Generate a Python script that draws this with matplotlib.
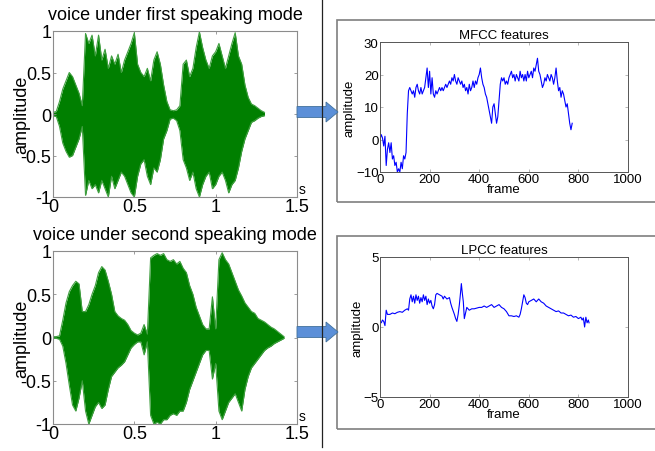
import matplotlib
matplotlib.use("Agg")
import matplotlib.pyplot as plt
from matplotlib.patches import Rectangle, FancyArrow
from matplotlib.lines import Line2D
import numpy as np

plt.rcParams['font.family'] = ['Liberation Sans', 'DejaVu Sans']

# ---------------- data ----------------
titles_left = ["voice under first speaking mode", "voice under second speaking mode"]
titles_right = ["MFCC features", "LPCC features"]

wave1_t = [0.00, 0.02, 0.04, 0.06, 0.08, 0.10, 0.12, 0.14, 0.16, 0.18,
           0.20, 0.22, 0.24, 0.26, 0.28, 0.30, 0.32, 0.34, 0.36, 0.38,
           0.40, 0.42, 0.44, 0.46, 0.48, 0.50, 0.52, 0.54, 0.56, 0.58,
           0.60, 0.62, 0.64, 0.66, 0.68, 0.70, 0.72, 0.74, 0.76, 0.78,
           0.80, 0.82, 0.84, 0.86, 0.88, 0.90, 0.92, 0.94, 0.96, 0.98,
           1.00, 1.02, 1.04, 1.06, 1.08, 1.10, 1.12, 1.14, 1.16, 1.18,
           1.20, 1.22, 1.24, 1.26, 1.28, 1.30]
wave1_upper = [0.02, 0.03, 0.15, 0.30, 0.40, 0.50, 0.45, 0.35, 0.25, 0.10,
               0.97, 0.85, 0.95, 0.70, 0.95, 0.65, 0.78, 0.55, 0.70, 0.60,
               0.72, 0.50, 0.65, 0.75, 0.85, 0.98, 0.60, 0.50, 0.45, 0.55,
               0.40, 0.65, 0.75, 0.60, 0.35, 0.15, 0.05, 0.04, 0.05, 0.10,
               0.60, 0.65, 0.45, 0.55, 0.80, 0.99, 0.80, 0.65, 0.55, 0.70,
               0.75, 0.85, 0.70, 0.55, 0.70, 0.85, 0.98, 0.70, 0.60, 0.35,
               0.20, 0.12, 0.10, 0.07, 0.04, 0.02]
wave1_lower = [-0.02, -0.03, -0.15, -0.35, -0.45, -0.52, -0.50, -0.40, -0.30, -0.15,
               -0.98, -0.80, -0.90, -0.85, -0.95, -0.80, -0.90, -1.00, -0.75, -0.90,
               -0.80, -0.70, -0.75, -0.85, -0.95, -1.00, -0.75, -0.60, -0.55, -0.75,
               -0.85, -0.65, -0.70, -0.55, -0.30, -0.20, -0.06, -0.05, -0.08, -0.20,
               -0.55, -0.65, -0.80, -0.70, -0.90, -1.00, -0.85, -0.75, -0.70, -0.90,
               -0.85, -0.75, -0.70, -0.80, -0.95, -0.85, -0.80, -0.65, -0.45, -0.30,
               -0.20, -0.10, -0.08, -0.05, -0.03, -0.02]

wave2_t = [0.00, 0.02, 0.04, 0.06, 0.08, 0.10, 0.12, 0.14, 0.16, 0.18,
           0.20, 0.22, 0.24, 0.26, 0.28, 0.30, 0.32, 0.34, 0.36, 0.38,
           0.40, 0.42, 0.44, 0.46, 0.48, 0.50, 0.52, 0.54, 0.56, 0.58,
           0.60, 0.62, 0.64, 0.66, 0.68, 0.70, 0.72, 0.74, 0.76, 0.78,
           0.80, 0.82, 0.84, 0.86, 0.88, 0.90, 0.92, 0.94, 0.96, 0.98,
           1.00, 1.02, 1.04, 1.06, 1.08, 1.10, 1.12, 1.14, 1.16, 1.18,
           1.20, 1.22, 1.24, 1.26, 1.28, 1.30, 1.32, 1.34, 1.36, 1.38,
           1.40, 1.42]
wave2_upper = [0.01, 0.01, 0.02, 0.20, 0.40, 0.53, 0.60, 0.65, 0.62, 0.30,
               0.30, 0.38, 0.50, 0.60, 0.75, 0.82, 0.78, 0.65, 0.50, 0.30,
               0.25, 0.22, 0.20, 0.15, 0.08, 0.05, 0.03, 0.05, 0.15, 0.04,
               0.92, 0.95, 0.97, 0.95, 0.97, 0.90, 0.88, 0.90, 0.85, 0.88,
               0.80, 0.75, 0.60, 0.50, 0.35, 0.25, 0.15, 0.10, 0.10, 0.47,
               0.10, 0.90, 0.98, 0.90, 0.85, 0.75, 0.65, 0.55, 0.48, 0.40,
               0.35, 0.30, 0.28, 0.22, 0.20, 0.18, 0.15, 0.12, 0.10, 0.07,
               0.04, 0.01]
wave2_lower = [-0.01, -0.01, -0.02, -0.10, -0.30, -0.55, -0.78, -0.85, -0.70, -0.50,
               -0.85, -1.00, -0.90, -0.80, -0.75, -0.82, -0.78, -0.60, -0.45, -0.40,
               -0.35, -0.32, -0.28, -0.20, -0.12, -0.08, -0.05, -0.05, -0.20, -0.05,
               -0.90, -1.00, -0.98, -1.00, -0.95, -0.95, -0.90, -0.88, -0.90, -0.85,
               -0.85, -0.75, -0.60, -0.50, -0.40, -0.30, -0.20, -0.15, -0.15, -0.48,
               -0.30, -0.85, -0.95, -0.85, -0.75, -0.70, -0.65, -0.75, -0.85, -0.60,
               -0.45, -0.35, -0.30, -0.25, -0.20, -0.15, -0.12, -0.10, -0.07, -0.05,
               -0.03, -0.01]

mfcc_frame = list(range(0, 780, 5))
mfcc_value = [0, 1.5, 0.5, -2, 1, -8, -3, -1, -4, -1,
              -6, -5, -8, -7, -10, -9, -10, -7, -9, -5,
              -6, -4, 8, 15, 16, 15, 14, 15, 13, 16,
              17, 15, 14, 16, 14, 15, 16, 19, 22, 16,
              21, 14, 19, 14, 13, 15, 14, 15, 16, 15,
              16, 15, 16, 17, 16, 17, 18, 17, 19, 18,
              20, 18, 17, 19, 18, 17, 18, 16, 17, 15,
              16, 14, 17, 15, 16, 18, 16, 18, 17, 19,
              20, 22, 19, 17, 16, 14, 13, 11, 9, 7,
              5, 10, 11, 8, 5, 7, 12, 17, 19, 18,
              19, 17, 18, 17, 19, 20, 21, 19, 20, 18,
              20, 19, 18, 21, 19, 20, 18, 20, 18, 21,
              19, 20, 21, 19, 22, 21, 23, 25, 21, 20,
              18, 16, 17, 19, 18, 20, 19, 18, 20, 19,
              17, 19, 22, 18, 15, 16, 13, 15, 14, 12,
              10, 11, 8, 5, 3, 5]

lpcc_frame = [0, 5, 10, 15, 20, 25, 30, 40, 50, 60, 70, 80, 90, 100, 110, 115,
              120, 125, 130, 135, 140, 145, 150, 155, 160, 165, 170, 175, 180, 185,
              190, 195, 200, 205, 210, 215, 220, 225, 230, 240, 250, 255, 260, 270,
              280, 285, 290, 300, 305, 310, 315, 320, 325, 328, 332, 336, 340, 345,
              350, 360, 370, 380, 390, 400, 410, 420, 430, 440, 450, 460, 470, 480,
              490, 500, 510, 520, 530, 540, 550, 560, 565, 570, 575, 580, 585, 590,
              595, 600, 610, 620, 630, 640, 650, 660, 670, 680, 690, 700, 710, 720,
              730, 740, 750, 760, 770, 780, 790, 800, 810, 815, 820, 825, 830, 835,
              840, 843]
lpcc_value = [0.4, 0.3, 0.5, 0.4, 0.1, 1.2, 0.9, 0.9, 1.0, 0.95, 1.05, 1.1, 1.05, 1.2, 1.3, 1.2,
              2.0, 2.3, 1.8, 2.2, 1.7, 2.3, 1.9, 2.2, 1.7, 2.1, 1.8, 2.3, 1.9, 2.2,
              1.6, 2.0, 1.7, 1.9, 1.5, 1.3, 1.6, 2.3, 2.4, 2.3, 2.2, 2.0, 2.2, 2.0,
              2.1, 1.7, 1.4, 0.9, 0.6, 0.4, 0.9, 1.6, 2.5, 3.1, 2.4, 1.8, 0.6, 1.0,
              1.4, 1.2, 1.3, 1.3, 1.35, 1.4, 1.4, 1.5, 1.4, 1.5, 1.6, 1.4, 1.5, 1.6,
              1.4, 1.3, 1.1, 0.8, 0.8, 0.75, 0.8, 0.7, 0.9, 1.3, 1.8, 2.3, 2.1, 1.7,
              1.6, 1.8, 1.9, 2.0, 1.8, 2.0, 1.8, 1.7, 1.5, 1.4, 1.3, 1.2, 1.1, 1.15,
              1.0, 1.0, 0.9, 0.8, 0.85, 0.7, 0.75, 0.6, 0.7, 0.5, 0.65, 0.0, 0.7, 0.3,
              0.5, 0.3]

left_xticks = [0, 0.5, 1, 1.5]
left_xticklabels = ["0", "0.5", "1", "1.5"]
left_yticks = [-1, -0.5, 0, 0.5, 1]
left_yticklabels = ["-1", "-0.5", "0", "0.5", "1"]
right_xticks = [0, 200, 400, 600, 800, 1000]
mfcc_yticks = [-10, 0, 10, 20, 30]
lpcc_yticks = [-5, 0, 5]

# ---------------- figure ----------------
W, H = 655, 452
fig = plt.figure(figsize=(W / 100, H / 100), dpi=100)
fig.patch.set_facecolor("white")

def fx(px):
    return px / W

def fy(py):
    return 1 - py / H

def axes_px(l, t, r, b):
    return fig.add_axes([fx(l), fy(b), fx(r) - fx(l), fy(t) - fy(b)])

GREEN = "#007f00"
LIGHTGREEN = "#3f9f3f"
AXCOL = "#8c8c8c"

def style_left(ax, title, title_y):
    ax.set_xlim(0, 1.5)
    ax.set_ylim(-1, 1)
    ax.set_xticks(left_xticks)
    ax.set_xticklabels(left_xticklabels)
    ax.set_yticks(left_yticks)
    ax.set_yticklabels(left_yticklabels)
    ax.tick_params(direction="in", length=2.5, width=0.6, color=AXCOL,
                   labelsize=13, pad=1, top=True, right=True)
    for s in ax.spines.values():
        s.set_color(AXCOL)
        s.set_linewidth(0.8)
    ax.set_ylabel("amplitude", fontsize=13, labelpad=0)
    ax.yaxis.set_label_coords(-0.095, 0.5)
    ax.text(1.005, 0.005, "s", transform=ax.transAxes, fontsize=10,
            ha="left", va="bottom")
    fig.text(fx(175), fy(title_y), title, fontsize=13, ha="center", va="center")

def style_right(ax, title, yt):
    ax.set_xlim(0, 1000)
    ax.set_xticks(right_xticks)
    ax.set_yticks(yt)
    ax.set_ylim(yt[0], yt[-1])
    ax.tick_params(direction="in", length=2, width=0.5, color="#999999",
                   labelsize=9.5, pad=1, top=True, right=True)
    for s in ax.spines.values():
        s.set_color("#555555")
        s.set_linewidth(0.7)
    ax.set_title(title, fontsize=9.5, pad=3)
    ax.set_xlabel("frame", fontsize=9.5, labelpad=-2)
    ax.set_ylabel("amplitude", fontsize=9.5, labelpad=0)

# top-left waveform
ax1 = axes_px(53, 32, 297, 198)
ax1.fill_between(wave1_t, wave1_lower, wave1_upper, color=GREEN, lw=0)
ax1.plot(wave1_t, wave1_upper, color=LIGHTGREEN, lw=0.8)
ax1.plot(wave1_t, wave1_lower, color=LIGHTGREEN, lw=0.8)
style_left(ax1, titles_left[0], 15)

# bottom-left waveform
ax2 = axes_px(53, 252, 297, 425)
ax2.fill_between(wave2_t, wave2_lower, wave2_upper, color=GREEN, lw=0)
ax2.plot(wave2_t, wave2_upper, color=LIGHTGREEN, lw=0.8)
ax2.plot(wave2_t, wave2_lower, color=LIGHTGREEN, lw=0.8)
style_left(ax2, titles_left[1], 236)

# top-right MFCC
ax3 = axes_px(380, 43, 628, 173)
ax3.plot(mfcc_frame, mfcc_value, color="#0000ff", lw=0.8)
style_right(ax3, titles_right[0], mfcc_yticks)

# bottom-right LPCC
ax4 = axes_px(380, 258, 628, 398)
ax4.plot(lpcc_frame, lpcc_value, color="#0000ff", lw=0.8)
style_right(ax4, titles_right[1], lpcc_yticks)

# frames around right panels
for (t, b) in [(21, 203), (237, 430)]:
    fig.patches.append(Rectangle((fx(337), fy(b)), fx(670) - fx(337), fy(t) - fy(b),
                                 transform=fig.transFigure, fill=False,
                                 edgecolor="#7f7f7f", lw=1.2, clip_on=False))

# separator line
fig.lines.append(Line2D([fx(322), fx(322)], [fy(0), fy(448)],
                        transform=fig.transFigure, color="#222222", lw=0.9))

# arrows
for yc in (113, 333):
    fig.patches.append(FancyArrow(fx(297), fy(yc), fx(338) - fx(297), 0,
                                  width=11 / H, head_width=20 / H,
                                  head_length=12 / W, length_includes_head=True,
                                  transform=fig.transFigure,
                                  facecolor="#5b8fd8", edgecolor="#41719c", lw=0.6))

fig.savefig("out.png", dpi=100)
